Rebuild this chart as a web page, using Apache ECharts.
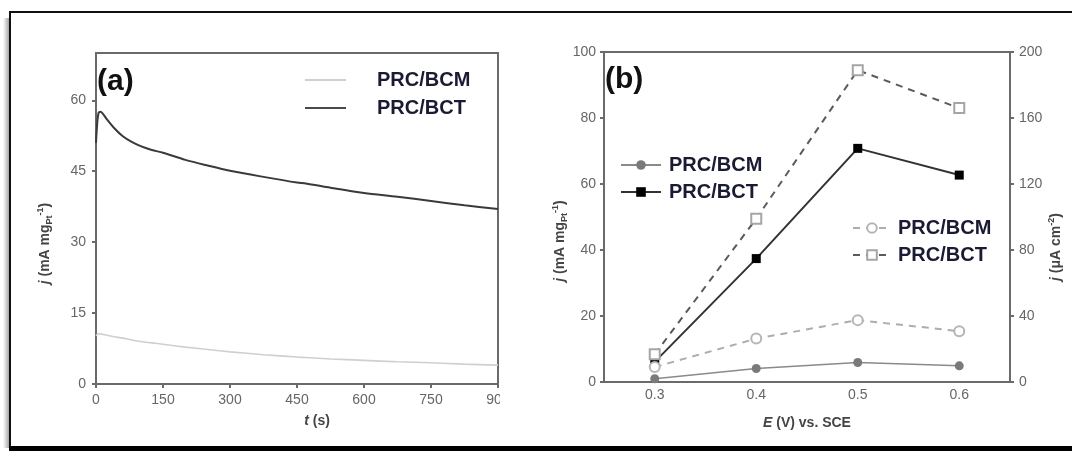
<!DOCTYPE html>
<html><head><meta charset="utf-8">
<script src="https://cdn.jsdelivr.net/npm/echarts@6/dist/echarts.min.js"></script>
<style>html,body{margin:0;padding:0;background:#fff}#c{width:1072px;height:451px}</style>
</head><body><div id="c"></div>
<script>
// ---- Panel (a): chronoamperometry ----
const timeS = [0, 3, 6, 10, 15, 25, 40, 60, 80, 100, 125, 150, 200, 250, 300, 375, 450, 470, 525, 600, 675, 750, 825, 900];
const bctA  = [51.0, 55.5, 57.4, 57.6, 57.2, 55.9, 54.2, 52.4, 51.2, 50.3, 49.5, 48.9, 47.4, 46.2, 45.1, 43.8, 42.6, 42.4, 41.5, 40.4, 39.6, 38.7, 37.8, 37.0];
const bcmA  = [10.2, 10.5, 10.6, 10.6, 10.5, 10.3, 10.0, 9.7, 9.3, 9.0, 8.7, 8.4, 7.8, 7.3, 6.8, 6.2, 5.7, 5.6, 5.3, 5.0, 4.7, 4.5, 4.2, 4.0];
const tTicks = [0, 150, 300, 450, 600, 750, 900];
const jTicksA = [0, 15, 30, 45, 60];

// ---- Panel (b): potential dependence ----
const potentials = ['0.3', '0.4', '0.5', '0.6'];
const bcmMass = [1.0, 4.1, 5.9, 4.9];      // mA mg_Pt^-1 (left axis)
const bctMass = [6.1, 37.4, 70.8, 62.7];
const bcmArea = [9.1, 26.3, 37.5, 30.8];    // uA cm^-2 (right axis)
const bctArea = [16.8, 99.0, 189.0, 166.0];

const seriesLabels = {
  'a-BCM': 'PRC/BCM', 'a-BCT': 'PRC/BCT',
  'b-BCM': 'PRC/BCM', 'b-BCT': 'PRC/BCT',
  'b-BCM-area': 'PRC/BCM', 'b-BCT-area': 'PRC/BCT'
};

const FONT = 'Liberation Sans, Arial, sans-serif';
const AX = '#6a6a6a';
const tickLbl = { fontFamily: FONT, fontSize: 14, color: '#666' };
const NC = '#444';
const nameStyleBase = {
  fontFamily: FONT, fontSize: 14, fontWeight: 'bold', color: NC, lineHeight: 18,
  rich: {
    i: { fontFamily: FONT, fontSize: 14, fontWeight: 'bold', fontStyle: 'italic', color: NC, lineHeight: 18 },
    sub: { fontFamily: FONT, fontSize: 9, fontWeight: 'bold', color: NC, lineHeight: 9, verticalAlign: 'bottom' },
    sup: { fontFamily: FONT, fontSize: 9, fontWeight: 'bold', color: NC, lineHeight: 9, verticalAlign: 'top' }
  }
};
function nameStyle(extra) { return Object.assign({}, nameStyleBase, extra); }
const legendText = { fontFamily: FONT, fontSize: 20, fontWeight: 'bold', color: '#1a1a33', lineHeight: 20 };
const fmt = n => seriesLabels[n];

const chart = echarts.init(document.getElementById('c'), null, { renderer: 'canvas' });
chart.setOption({
  animation: false,
  backgroundColor: '#fff',
  grid: [
    { left: 96, right: 574, top: 53, bottom: 67, show: true, borderColor: AX, borderWidth: 2, backgroundColor: 'transparent' },
    { left: 604, right: 62, top: 52, bottom: 69, show: true, borderColor: AX, borderWidth: 2, backgroundColor: 'transparent' }
  ],
  xAxis: [
    {
      gridIndex: 0, type: 'value', min: 0, max: 900, interval: 150,
      axisLine: { lineStyle: { color: AX, width: 2 } },
      axisTick: { length: 4, lineStyle: { color: AX, width: 2 } },
      axisLabel: Object.assign({ margin: 9 }, tickLbl),
      splitLine: { show: false },
      name: '{i|t} (s)', nameLocation: 'middle', nameGap: 22,
      nameTextStyle: nameStyle({ padding: [0, 0, 0, 40] })
    },
    {
      gridIndex: 1, type: 'category', data: potentials, boundaryGap: true,
      axisLine: { lineStyle: { color: AX, width: 2 } },
      axisTick: { show: false },
      axisLabel: Object.assign({ margin: 6 }, tickLbl),
      splitLine: { show: false },
      name: '{i|E} (V) vs. SCE', nameLocation: 'middle', nameGap: 32,
      nameTextStyle: nameStyle({})
    }
  ],
  yAxis: [
    {
      gridIndex: 0, type: 'value', min: 0, max: 70, interval: 15,
      axisLine: { show: true, lineStyle: { color: AX, width: 2 } },
      axisTick: { show: true, length: 4, lineStyle: { color: AX, width: 2 }, customValues: jTicksA },
      axisLabel: Object.assign({ margin: 10, customValues: jTicksA }, tickLbl),
      splitLine: { show: false },
      name: '{i|j} (mA mg{sub|Pt}{sup|-1})', nameLocation: 'middle', nameGap: 42, nameRotate: 90,
      nameTextStyle: nameStyle({ padding: [0, 50, 0, 0] })
    },
    {
      gridIndex: 1, type: 'value', min: 0, max: 100, interval: 20, position: 'left',
      axisLine: { show: true, lineStyle: { color: AX, width: 2 } },
      axisTick: { show: true, length: 4, lineStyle: { color: AX, width: 2 } },
      axisLabel: Object.assign({ margin: 8 }, tickLbl),
      splitLine: { show: false },
      name: '{i|j} (mA mg{sub|Pt}{sup|-1})', nameLocation: 'middle', nameGap: 33, nameRotate: 90,
      nameTextStyle: nameStyle({ padding: [0, 48, 0, 0] })
    },
    {
      gridIndex: 1, type: 'value', min: 0, max: 200, interval: 40, position: 'right',
      axisLine: { show: true, lineStyle: { color: AX, width: 2 } },
      axisTick: { show: true, length: 4, lineStyle: { color: AX, width: 2 } },
      axisLabel: Object.assign({ margin: 9 }, tickLbl),
      splitLine: { show: false },
      name: '{i|j} (\u03bcA cm{sup|-2})', nameLocation: 'middle', nameGap: 37, nameRotate: 90,
      nameTextStyle: nameStyle({ padding: [0, 60, 0, 0] })
    }
  ],
  legend: [
    {
      data: ['a-BCM', 'a-BCT'], orient: 'vertical', left: 305, top: 70, padding: 0,
      icon: 'rect', itemWidth: 41, itemHeight: 2, itemGap: 8, selectedMode: false, formatter: fmt,
      textStyle: Object.assign({ padding: [0, 0, 0, 26] }, legendText)
    },
    {
      data: ['b-BCM', 'b-BCT'], orient: 'vertical', left: 620, top: 155, padding: 0,
      itemWidth: 40, itemHeight: 12, itemGap: 7, selectedMode: false, formatter: fmt,
      textStyle: Object.assign({ padding: [0, 0, 0, 3] }, legendText)
    },
    {
      data: ['b-BCM-area', 'b-BCT-area'], orient: 'vertical', left: 852, top: 218, padding: 0,
      itemWidth: 38, itemHeight: 12, itemGap: 7, selectedMode: false, formatter: fmt,
      textStyle: Object.assign({ padding: [0, 0, 0, 2] }, legendText)
    }
  ],
  series: [
    {
      name: 'a-BCM', type: 'line', xAxisIndex: 0, yAxisIndex: 0, symbol: 'none', smooth: 0.3,
      lineStyle: { color: '#cfcfcf', width: 1.6 }, itemStyle: { color: '#cfcfcf' },
      data: timeS.map((t, i) => [t, bcmA[i]])
    },
    {
      name: 'a-BCT', type: 'line', xAxisIndex: 0, yAxisIndex: 0, symbol: 'none', smooth: 0.3,
      lineStyle: { color: '#3a3a3a', width: 2 }, itemStyle: { color: '#4a4a4a' },
      data: timeS.map((t, i) => [t, bctA[i]])
    },
    {
      name: 'b-BCM', type: 'line', xAxisIndex: 1, yAxisIndex: 1, symbol: 'circle', symbolSize: 9,
      lineStyle: { color: '#8a8a8a', width: 1.5 }, itemStyle: { color: '#7a7a7a' },
      data: bcmMass
    },
    {
      name: 'b-BCT', type: 'line', xAxisIndex: 1, yAxisIndex: 1, symbol: 'rect', symbolSize: 9,
      lineStyle: { color: '#333', width: 2 }, itemStyle: { color: '#000' },
      data: bctMass
    },
    {
      name: 'b-BCM-area', type: 'line', xAxisIndex: 1, yAxisIndex: 2, symbol: 'emptyCircle', symbolSize: 10,
      lineStyle: { color: '#adadad', width: 2, type: [7, 6] }, itemStyle: { color: '#b5b5b5', borderWidth: 1.3 },
      data: bcmArea
    },
    {
      name: 'b-BCT-area', type: 'line', xAxisIndex: 1, yAxisIndex: 2, symbol: 'emptyRect', symbolSize: 10,
      lineStyle: { color: '#5a5a5a', width: 2, type: [7, 6] }, itemStyle: { color: '#a5a5a5', borderWidth: 1.3 },
      data: bctArea
    }
  ],
  graphic: [
    // clip the last tick label of panel (a) like the reference
    { type: 'rect', z: 100, shape: { x: 500, y: 390, width: 28, height: 22 }, style: { fill: '#fff' } },
    { type: 'text', z: 101, left: 97, top: 67, style: { text: '(a)', font: 'bold 30px ' + FONT, fill: '#111' } },
    { type: 'text', z: 101, left: 605, top: 65, style: { text: '(b)', font: 'bold 30px ' + FONT, fill: '#111' } },
    // outer frame
    { type: 'rect', z: 100, shape: { x: 3, y: 18, width: 6, height: 430 },
      style: { fill: new echarts.graphic.LinearGradient(0, 0, 1, 0, [{ offset: 0, color: 'rgba(0,0,0,0)' }, { offset: 1, color: 'rgba(0,0,0,0.35)' }]) } },
    { type: 'rect', z: 100, shape: { x: 9, y: 11, width: 1063, height: 2 }, style: { fill: '#111' } },
    { type: 'rect', z: 100, shape: { x: 9, y: 11, width: 2, height: 436 }, style: { fill: '#111' } },
    { type: 'rect', z: 100, shape: { x: 9, y: 446, width: 1063, height: 5 }, style: { fill: '#000' } }
  ]
});
</script></body></html>
